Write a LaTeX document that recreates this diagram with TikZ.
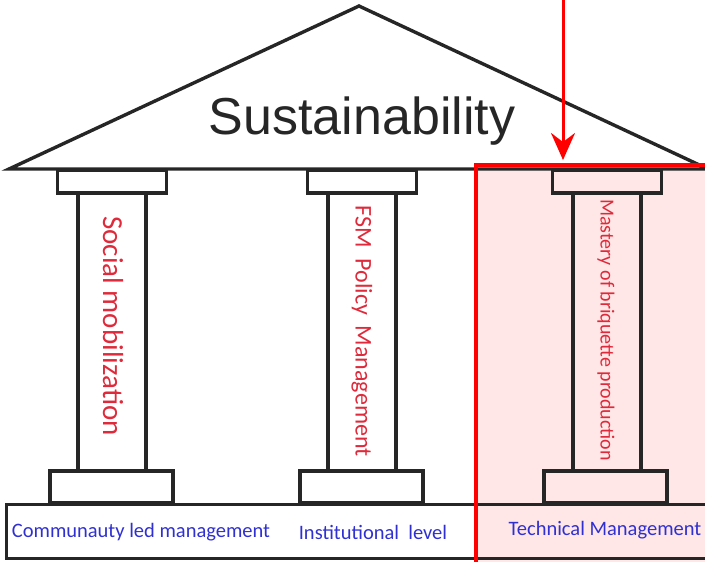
\documentclass[tikz,border=0pt]{standalone}
\usepackage{fontspec}
\setmainfont{Carlito}
\newfontfamily\roofont{Liberation Sans}
\usetikzlibrary{arrows.meta}
\definecolor{pillartext}{RGB}{222,42,58}
\definecolor{basetext}{RGB}{48,48,210}
\definecolor{highlight}{RGB}{255,0,0}
\definecolor{highfill}{RGB}{255,231,231}

\begin{document}
\begin{tikzpicture}[
    x=1pt, y=-1pt,
    block/.style={draw=black!85, line width=3.4pt, inner sep=0pt},
    pillarlabel/.style={text=pillartext, rotate=-90, inner sep=0pt},
    baselabel/.style={text=basetext, font=\fontsize{20.5}{20.5}\selectfont, inner sep=0pt},
    marker/.style={-{Stealth[length=27pt, width=24pt, inset=9pt]}, line width=3pt, color=highlight},
]
\useasboundingbox (0,0) rectangle (705,562);
\clip (0,0) rectangle (705,562);

% highlighted third pillar (background)
\fill[highfill] (476,165) rectangle (720,580);

% foundation slab
\node[block, anchor=north west, minimum width=730pt, minimum height=54pt] (plinth) at (5,503) {};

% pillars: base, shaft and capital
\foreach \i/\x/\bx in {1/112/111.5, 2/362/361.5, 3/607/605.5} {
    \node[block, minimum width=123pt, minimum height=32pt] (base\i) at (\bx,487) {};
    \node[block, minimum width=68pt, minimum height=278pt] (shaft\i) at (\x,332) {};
    \node[block, minimum width=109pt, minimum height=23pt] (cap\i) at (\x,181.5) {};
}

% roof
\coordinate (eaveL) at (9,169);
\coordinate (apex) at (359,6);
\coordinate (eaveR) at (708,169);
\draw[line width=3.4pt, draw=black!85, line join=miter] (eaveL) -- (apex) -- (eaveR) -- cycle;
\node[font=\roofont\fontsize{52}{52}\selectfont, text=black!85] (roof) at (362,121) {Sustainability};

% pillar labels
\node[pillarlabel, font=\fontsize{29}{29}\selectfont] (lbl1) at (113,326) {Social mobilization};
\node[pillarlabel, font=\fontsize{24}{24}\selectfont] (lbl2) at (362,331) {FSM\ \ Policy\ \ Management};
\node[pillarlabel, font=\fontsize{20}{20}\selectfont] (lbl3) at (606,330) {Mastery of briquette production};

% foundation labels
\node[baselabel] (found1) at (141,532) {Communauty led management};
\node[baselabel] (found2) at (373,532) {Institutional\ \ level};
\node[baselabel] (found3) at (605,530) {Technical Management};

% highlight frame and pointer
\draw[line width=3.2pt, color=highlight] (476,600) -- (476,165) -- (720,165);
\coordinate (pointer) at (563,-5);
\coordinate (target) at (563,160);
\draw[marker] (pointer) -- (target);
\end{tikzpicture}
\end{document}
